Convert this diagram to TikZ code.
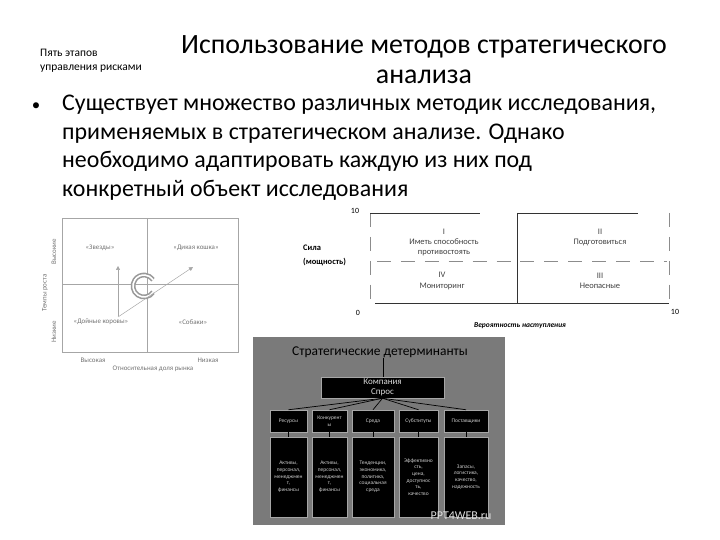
\documentclass[tikz,border=0pt]{standalone}
\usepackage{fontspec}
\setmainfont{Carlito}
\usetikzlibrary{arrows.meta}

\begin{document}
\begin{tikzpicture}[x=1bp,y=-1bp,
  every node/.style={inner sep=0pt},
  bcglabel/.style={font=\fontsize{7}{8}\selectfont,text=black!55},
  bcgline/.style={draw=black!35,line width=0.5pt},
  quad/.style={font=\fontsize{8.5}{10.5}\selectfont,text=black!75,align=center},
  riskline/.style={draw=black!80,line width=0.6pt},
  riskdash/.style={draw=black!45,line width=0.6pt,dash pattern=on 14pt off 10pt},
  detbox/.style={fill=black,draw=black!35,line width=0.5pt},
  dettext/.style={text=white!80!black,align=center,font=\fontsize{5.5}{6.7}\selectfont},
  detlink/.style={draw=black,line width=0.7pt}]
\useasboundingbox (0,0) rectangle (720,540);

% heading
\node[anchor=north west,align=left,font=\fontsize{11.5}{14}\selectfont] (stages) at (40,49)
  {Пять этапов\\управления рисками};
\node[align=center,font=\fontsize{28}{30}\selectfont] (title) at (424,60)
  {Использование методов стратегического\\анализа};

% bullet
\node[font=\fontsize{17}{20}\selectfont] (dot) at (36,107) {\textbullet};
\node[anchor=north west,align=left,font=\fontsize{24}{28.7}\selectfont] (bullet) at (62,95)
  {Существует множество различных методик исследования,\\
   применяемых в стратегическом анализе. Однако\\
   необходимо адаптировать каждую из них под\\
   конкретный объект исследования};

% BCG matrix
\draw[bcgline] (62,218) rectangle (238,352);
\draw[bcgline] (147,218) -- (147,352);
\draw[bcgline] (62,284) -- (238,284);
\node[bcglabel] (stars) at (100,248) {«Звезды»};
\node[bcglabel] (cats) at (196,248) {«Дикая кошка»};
\node[bcglabel] (cows) at (101,322) {«Дойные коровы»};
\node[bcglabel] (dogs) at (193,322) {«Собаки»};
\node[bcglabel,rotate=90] (high) at (54,252) {Высокие};
\node[bcglabel,rotate=90] (low) at (54,332) {Низкие};
\node[bcglabel,rotate=90] (growth) at (45,293) {Темпы роста};
\node[bcglabel] (hshare) at (93,360) {Высокая};
\node[bcglabel] (lshare) at (208,360) {Низкая};
\node[bcglabel] (share) at (153,369) {Относительная доля рынка};
\draw[draw=black!40,line width=1.6pt,double=white,double distance=1.6pt]
  ([shift={(35:11)}]144,286) arc (35:325:11);
\coordinate (cowfoot) at (118,316);
\coordinate (cowstart) at (118,317);
\coordinate (startip) at (118,266);
\coordinate (cattip) at (193,267);
\draw[bcgline,-{Triangle[length=4pt,width=4pt]}] (cowfoot) -- (startip);
\draw[bcgline,-{Triangle[length=4pt,width=4pt]}] (cowstart) -- (cattip);

% risk matrix
\node[font=\fontsize{8}{9}\selectfont] (ten) at (355,211) {10};
\node[font=\fontsize{8}{9}\selectfont] (zero) at (358,313) {0};
\node[font=\fontsize{8}{9}\selectfont] (tenx) at (675,312) {10};
\node[anchor=west,font=\bfseries\fontsize{8.5}{14}\selectfont,align=left] (force) at (303,255) {Сила\\(мощность)};
\node[font=\bfseries\itshape\fontsize{7.5}{9}\selectfont] (prob) at (520,326) {Вероятность наступления};
\coordinate (tl) at (370,213);
\coordinate (tm) at (517,213);
\coordinate (tr) at (669,213);
\coordinate (bl) at (370,303);
\coordinate (bm) at (517,303);
\coordinate (br) at (669,303);
\draw[riskdash] (tl) -- (bl);
\draw[riskdash] (tr) -- (br);
\draw[riskline] (tm) -- (bm);
\draw[riskline] (375,303) -- (669,303);
\draw[riskline] (tl) -- (480,213);
\draw[riskline] (tm) -- (638,213);
\draw[riskdash] (377,261) -- (667,261);
\node[quad] (q1) at (444,242.5) {I\\Иметь способность\\противостоять};
\node[quad] (q2) at (600,237.5) {II\\Подготовиться};
\node[quad] (q4) at (442,281) {IV\\Мониторинг};
\node[quad] (q3) at (600,281) {III\\Неопасные};

% strategic determinants
\fill[black!52] (253,337) rectangle (505,525);
\node[font=\fontsize{13.5}{15}\selectfont] (dettitle) at (380,352) {Стратегические детерминанты};
\node[detbox,minimum width=123bp,minimum height=21bp] (company) at (382.5,387.5) {};
\node[text=white!85!black,align=center,font=\fontsize{9}{10}\selectfont] at (company) {Компания\\Спрос};
\draw[detlink] (dettitle.south) ++(3,0) coordinate (tfoot) -- (tfoot |- company.north);

\foreach \nm/\xa/\xb/\top/\bot in {
  res/270/307/Ресурсы/{Активы,\\персонал,\\менеджмен\\т,\\финансы},
  comp/312/347/{Конкурент\\ы}/{Активы,\\персонал,\\менеджмен\\т,\\финансы},
  env/352/394/Среда/{Тенденции,\\экономика,\\политика,\\социальная\\среда},
  sub/399/438/Субституты/{Эффективно\\сть,\\цена,\\доступнос\\ть,\\качество},
  sup/444/488/Поставщики/{Запасы,\\логистика,\\качество,\\надежность}}{
  \node[detbox,minimum width={(\xb-\xa)*1bp},minimum height=22bp] (\nm top) at ({(\xa+\xb)/2},421) {};
  \node[dettext] at (\nm top) {\top};
  \node[detbox,minimum width={(\xb-\xa)*1bp},minimum height=80bp] (\nm bot) at ({(\xa+\xb)/2},477) {};
  \node[dettext] at (\nm bot) {\bot};
  \draw[detlink] (company.south) -- (\nm top.north);
  \draw[detlink] (\nm top.south) -- (\nm bot.north);
}
\node[text=white!88!black,font=\fontsize{12}{14}\selectfont] (mark) at (461,516) {PPT4WEB.ru};
\end{tikzpicture}
\end{document}
